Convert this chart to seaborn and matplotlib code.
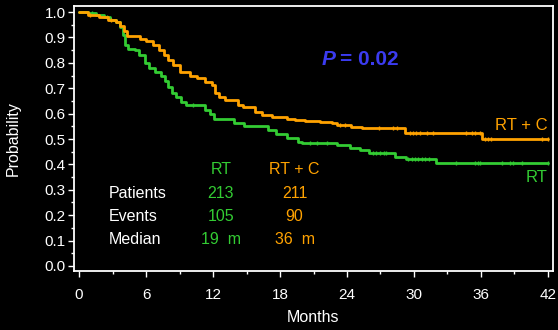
import numpy as np
import pandas as pd
import matplotlib
matplotlib.use("Agg")
import matplotlib.pyplot as plt
import seaborn as sns

# ---- data ----
rt_time = [0, 0.8, 1.5, 2.2, 2.8, 3.3, 3.7, 3.9, 4.1, 4.4, 5.0, 5.4, 5.9, 6.3, 6.8, 7.3,
           7.7, 8.0, 8.3, 8.7, 9.1, 9.6, 11.3, 11.7, 12.1, 13.9, 14.8, 16.9, 17.6, 18.6,
           19.6, 20.0, 23.1, 24.3, 25.2, 26.0, 28.3, 29.3, 32.0, 42.0]
rt_surv = [1.0, 0.995, 0.99, 0.98, 0.97, 0.96, 0.94, 0.91, 0.87, 0.855, 0.85, 0.83, 0.80,
           0.78, 0.765, 0.75, 0.73, 0.705, 0.68, 0.665, 0.645, 0.634, 0.615, 0.60, 0.578,
           0.565, 0.55, 0.535, 0.52, 0.505, 0.49, 0.484, 0.476, 0.465, 0.455, 0.445, 0.43,
           0.421, 0.405, 0.405]
rtc_time = [0, 0.8, 1.8, 2.6, 3.3, 3.7, 4.0, 4.3, 5.5, 6.0, 6.6, 7.2, 7.6, 8.0, 8.4, 9.0,
            9.9, 10.6, 11.3, 11.9, 12.2, 12.5, 13.1, 14.2, 14.7, 15.8, 16.4, 17.3, 18.6,
            19.3, 20.2, 21.6, 22.7, 23.1, 24.4, 25.3, 29.2, 36.1, 42.0]
rtc_surv = [1.0, 0.99, 0.98, 0.97, 0.96, 0.945, 0.925, 0.905, 0.895, 0.885, 0.87, 0.85,
            0.83, 0.81, 0.79, 0.765, 0.75, 0.74, 0.725, 0.713, 0.68, 0.665, 0.654, 0.634,
            0.626, 0.605, 0.594, 0.587, 0.58, 0.575, 0.57, 0.567, 0.563, 0.555, 0.547,
            0.543, 0.523, 0.50, 0.50]
rt_censor = [1.2, 2.5, 10.2, 20.7, 21.3, 22.2, 26.3, 26.6, 27.0, 27.3, 27.5, 29.5, 29.8,
             30.1, 30.4, 30.7, 31.0, 31.3, 33.8, 35.5, 35.7, 35.9, 37.9, 38.6, 38.9, 39.7, 42.0]
rtc_censor = [1.0, 2.9, 23.4, 23.8, 26.9, 28.1, 28.5, 29.6, 29.9, 30.2, 30.5, 31.2, 31.7,
              34.7, 35.2, 35.5, 35.9, 36.4, 36.6, 36.9, 41.5, 42.0]

row_labels = ["Patients", "Events", "Median"]
rt_stats = ["213", "105", "19  m"]
rtc_stats = ["211", "90", "36  m"]
groups = ["RT", "RT + C"]
p_text = "= 0.02"

x_ticks = list(range(0, 43, 6))
y_ticks = [i / 10 for i in range(11)]

GREEN = "#33cc33"
ORANGE = "#ffa200"
BLUE = "#3b3bf0"

sns.set_style("dark", {"axes.facecolor": "black", "figure.facecolor": "black"})
plt.rcParams["font.family"] = ["Liberation Sans", "DejaVu Sans"]
plt.rcParams["text.color"] = "white"

fig = plt.figure(figsize=(5.58, 3.30), dpi=100)
fig.patch.set_facecolor("black")
ax = fig.add_axes([74 / 558, 1 - 271 / 330, (553 - 74) / 558, (271 - 6) / 330])
ax.set_facecolor("black")


def step_value(times, survs, t):
    idx = np.searchsorted(times, t, side="right") - 1
    return np.asarray(survs)[idx]


df_rt = pd.DataFrame({"t": rt_time, "s": rt_surv})
df_rtc = pd.DataFrame({"t": rtc_time, "s": rtc_surv})
sns.lineplot(data=df_rt, x="t", y="s", drawstyle="steps-post", estimator=None,
             color=GREEN, lw=2.0, ax=ax, zorder=3)
sns.lineplot(data=df_rtc, x="t", y="s", drawstyle="steps-post", estimator=None,
             color=ORANGE, lw=2.0, ax=ax, zorder=4)

cen_rt = pd.DataFrame({"t": rt_censor, "s": step_value(rt_time, rt_surv, rt_censor)})
cen_rtc = pd.DataFrame({"t": rtc_censor, "s": step_value(rtc_time, rtc_surv, rtc_censor)})
sns.scatterplot(data=cen_rt, x="t", y="s", marker="|", s=12, color=GREEN,
                linewidth=1.0, ax=ax, zorder=3)
sns.scatterplot(data=cen_rtc, x="t", y="s", marker="|", s=12, color=ORANGE,
                linewidth=1.0, ax=ax, zorder=4)

ax.set_xlim(-0.45, 42.45)
ax.set_ylim(-0.02, 1.024)
ax.set_xticks(x_ticks)
ax.set_xticks(list(range(0, 43, 3)), minor=True)
ax.set_yticks(y_ticks)
ax.set_yticklabels([f"{v:.1f}" for v in y_ticks])
ax.set_yticks([i / 20 for i in range(21)], minor=True)

for sp in ax.spines.values():
    sp.set_visible(True)
    sp.set_color("white")
    sp.set_linewidth(1.3)

ax.tick_params(axis="both", which="major", direction="out", length=4, width=1,
               colors="white", labelsize=11, left=True, bottom=True)
ax.tick_params(axis="x", which="major", pad=8)
ax.tick_params(axis="y", which="major", pad=2)
ax.tick_params(axis="both", which="minor", direction="out", length=2.5, width=1,
               colors="white", left=True, bottom=True)
ax.grid(False)

ax.set_xlabel("Months", color="white", fontsize=11.5)
ax.set_ylabel("Probability", color="white", fontsize=11.5)
ax.xaxis.set_label_coords(0.5, -0.147)
ax.yaxis.set_label_coords(-0.111, 0.5)

# P-value
ax.text(22.95, 0.815, "P", color=BLUE, fontsize=15, fontweight="bold",
        fontstyle="italic", ha="right", va="center")
ax.text(23.35, 0.815, p_text, color=BLUE, fontsize=15, fontweight="bold",
        ha="left", va="center")

# curve labels
ax.text(42.0, 0.555, groups[1], color=ORANGE, fontsize=12, ha="right", va="center")
ax.text(42.0, 0.35, groups[0], color=GREEN, fontsize=12, ha="right", va="center")

# stats table
row_y = [0.287, 0.193, 0.106]
ax.text(12.7, 0.378, groups[0], color=GREEN, fontsize=11.5, ha="center", va="center")
ax.text(19.3, 0.378, groups[1], color=ORANGE, fontsize=11.5, ha="center", va="center")
for lab, a, b, y in zip(row_labels, rt_stats, rtc_stats, row_y):
    ax.text(2.7, y, lab, color="white", fontsize=11.5, ha="left", va="center")
    ax.text(12.7, y, a, color=GREEN, fontsize=11.5, ha="center", va="center")
    ax.text(19.3, y, b, color=ORANGE, fontsize=11.5, ha="center", va="center")

fig.savefig("out.png", dpi=100, facecolor="black")
